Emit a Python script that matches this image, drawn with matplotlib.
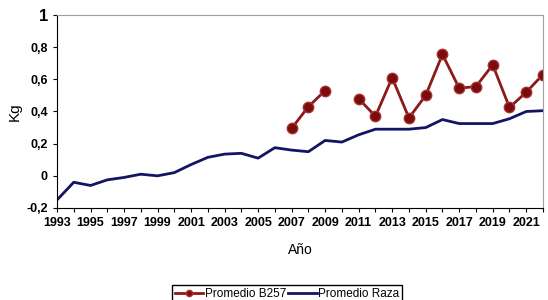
import matplotlib
matplotlib.use("Agg")
import matplotlib.pyplot as plt
import numpy as np

years = list(range(1993, 2023))
raza = [-0.15, -0.04, -0.06, -0.025, -0.01, 0.01, 0.0, 0.02, 0.07, 0.115,
        0.135, 0.14, 0.11, 0.175, 0.16, 0.15, 0.22, 0.21, 0.255, 0.29,
        0.29, 0.29, 0.30, 0.35, 0.325, 0.325, 0.325, 0.355, 0.40, 0.405]
b257 = [np.nan] * 14 + [0.295, 0.43, 0.53, np.nan, 0.48, 0.37, 0.61, 0.36,
                        0.50, 0.755, 0.545, 0.555, 0.69, 0.425, 0.52, 0.63]

plt.rcParams['font.family'] = ['Liberation Sans', 'DejaVu Sans']

fig = plt.figure(figsize=(5.48, 3.0), dpi=100)
ax = fig.add_axes([57 / 548, 1 - 208 / 300, 486 / 548, 193 / 300])

ax.plot(years, b257, color='#8b1a1a', lw=2, marker='o', ms=7.5,
        mfc='#7a0c0c', mec='#a83030', label='Promedio B257')
ax.plot(years, raza, color='#141464', lw=2, label='Promedio Raza')

ax.set_xlim(1993, 2022)
ax.set_ylim(-0.2, 1)
ax.set_xticks(years)
ax.set_xticklabels([str(y) if (y - 1993) % 2 == 0 else '' for y in years])
ax.set_yticks([-0.2, 0, 0.2, 0.4, 0.6, 0.8, 1])
ax.set_yticklabels(['-0,2', '0', '0,2', '0,4', '0,6', '0,8', '1'])
ax.tick_params(axis='both', direction='out', length=3, width=0.8, labelsize=9)
for lab in ax.get_xticklabels() + ax.get_yticklabels():
    lab.set_fontweight('bold')
ax.get_yticklabels()[-1].set_fontsize(12)

ax.spines['top'].set_color('#a0a0a0')
ax.spines['right'].set_color('#a0a0a0')
ax.spines['left'].set_color('black')
ax.spines['bottom'].set_color('black')

ax.set_xlabel('Año', fontsize=10, labelpad=10)
ax.set_ylabel('Kg', fontsize=11)
ax.yaxis.set_label_coords(-0.072, 0.5)

fig.legend(loc='upper center', bbox_to_anchor=(287 / 548, 1 - 279 / 300), ncol=2,
           fancybox=False, edgecolor='black', fontsize=8.5, handlelength=2.4,
           handletextpad=0.1, columnspacing=0.2, borderpad=0.3, framealpha=1,
           markerscale=0.6)

fig.savefig('out.png', dpi=100)
